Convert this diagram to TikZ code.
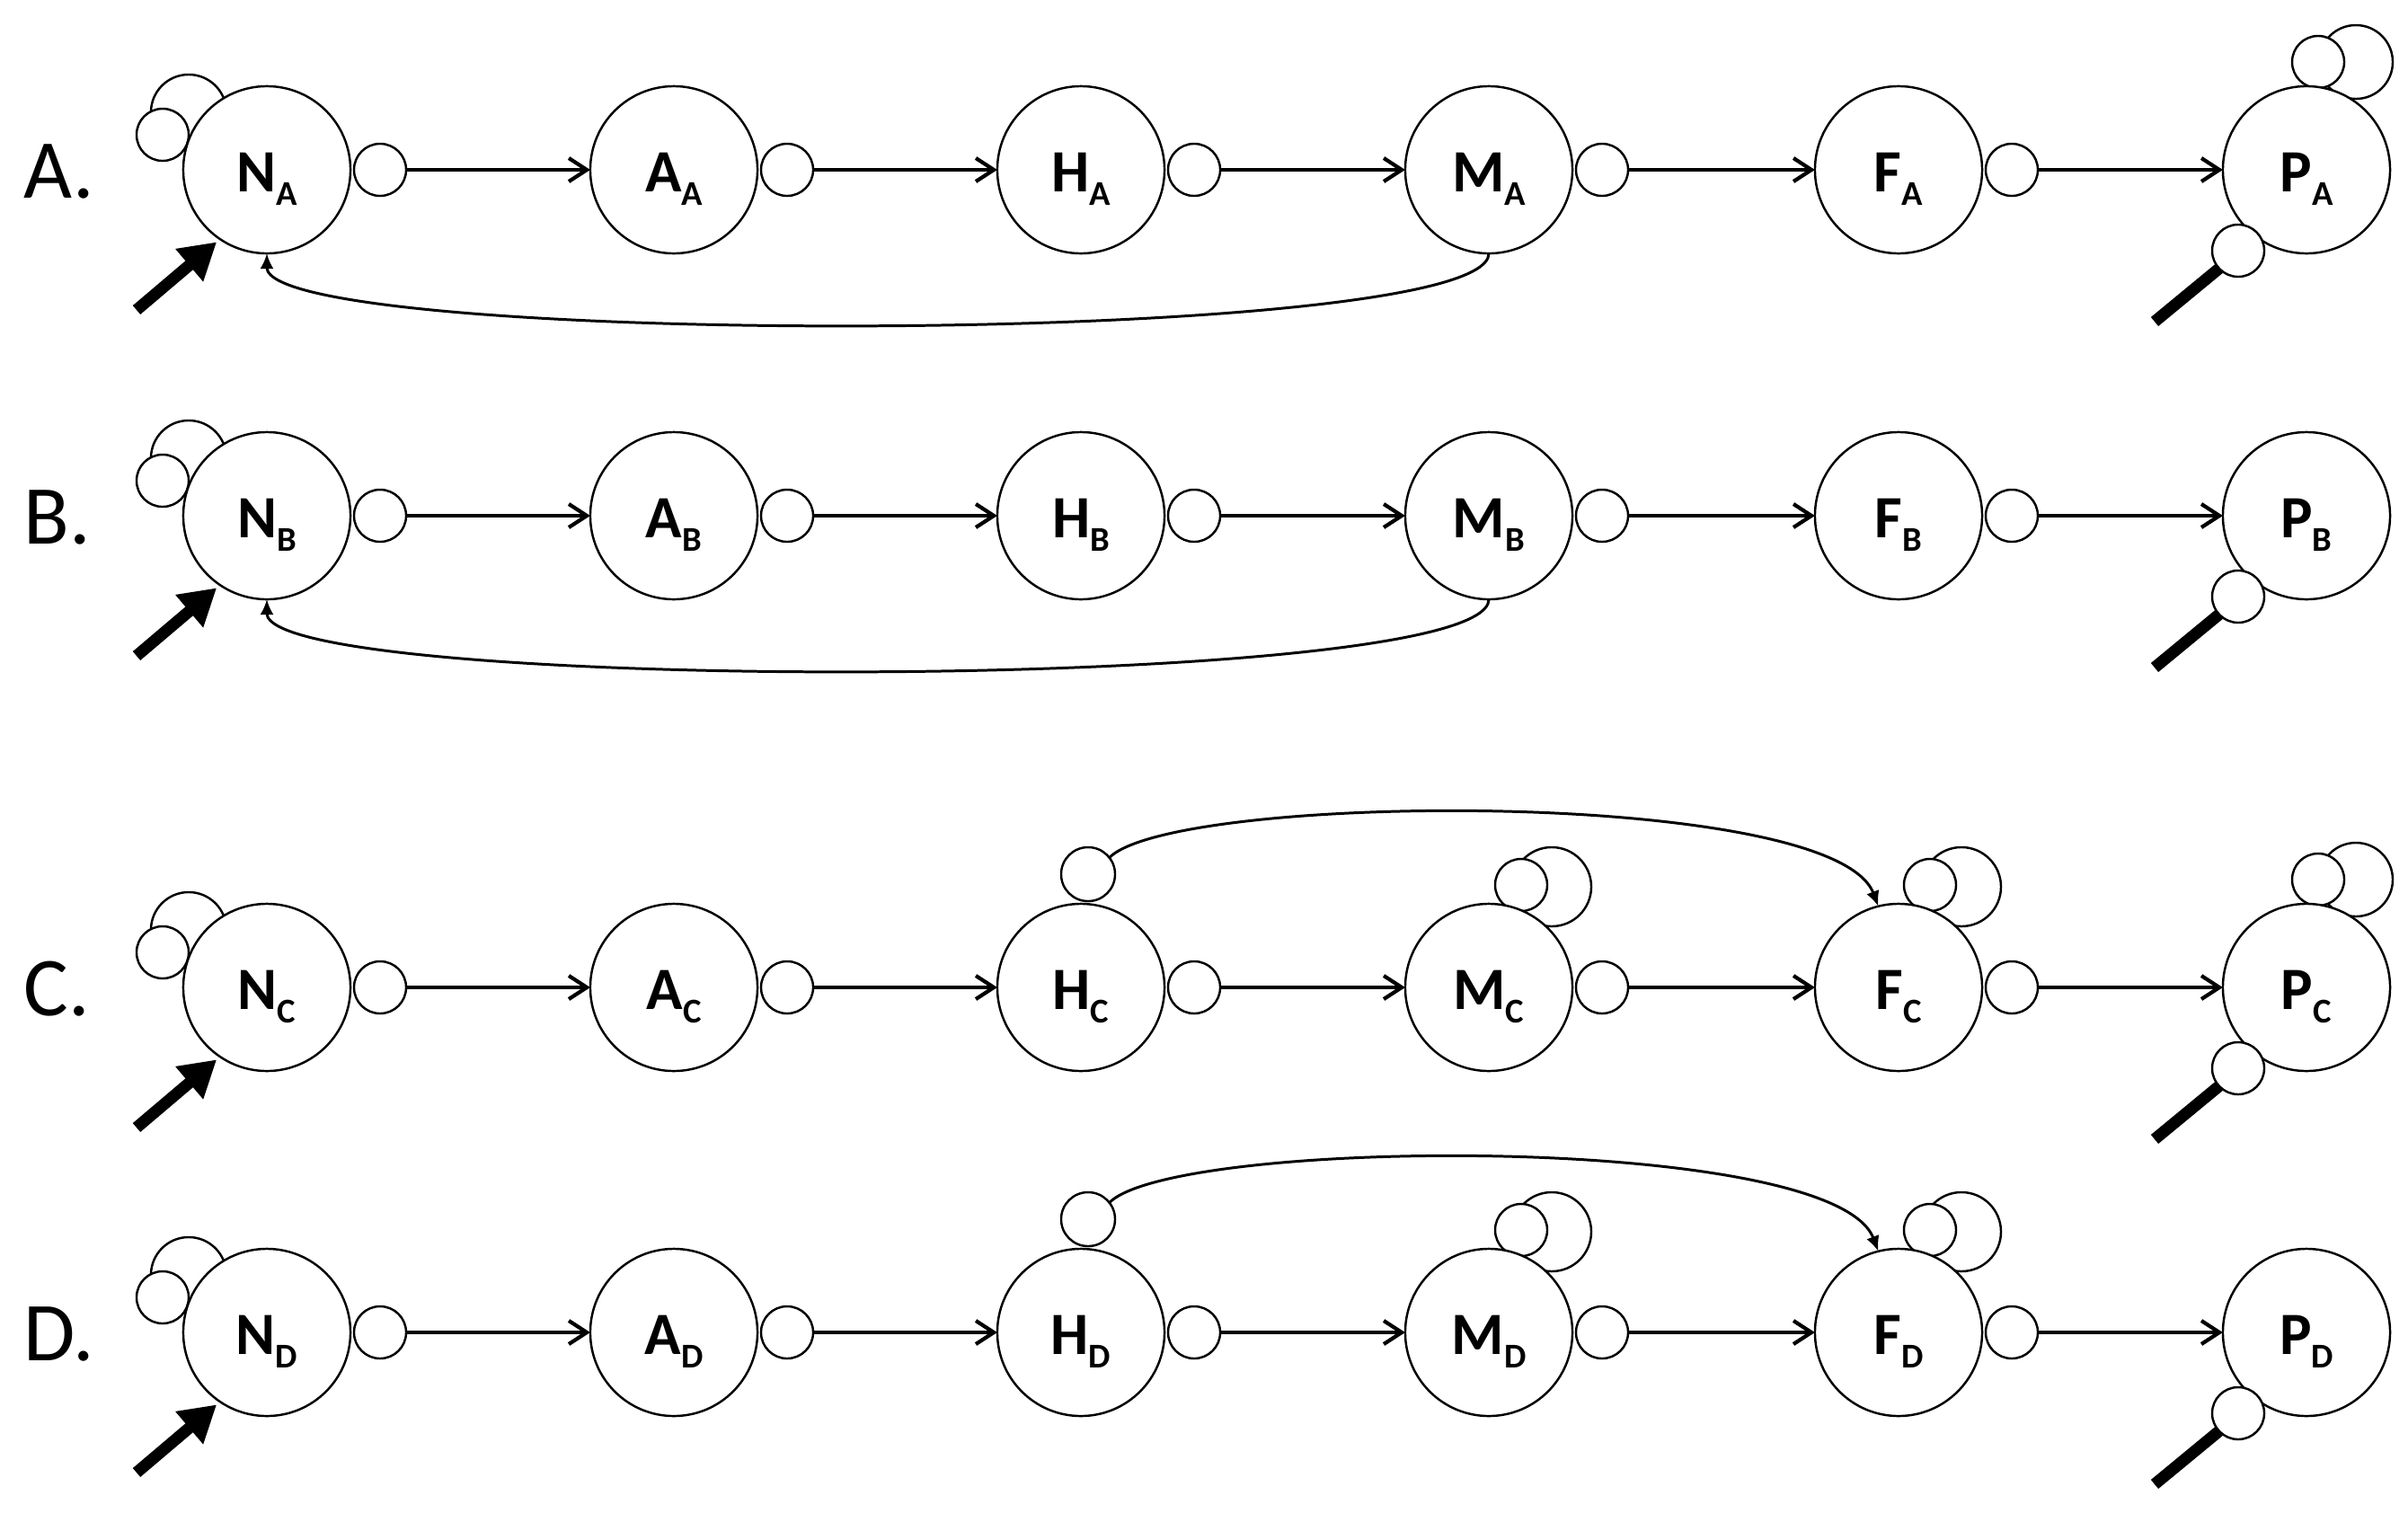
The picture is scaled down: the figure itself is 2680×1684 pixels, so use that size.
\documentclass[tikz,border=0pt]{standalone}
\usepackage{fontspec}
\setmainfont{Carlito}
\usetikzlibrary{arrows.meta}
\newcommand{\nodesub}[1]{\raisebox{-0.15cm}{\fontsize{11}{11}\selectfont #1}}
\tikzset{
  ring/.style={circle, draw=black, line width=0.7pt, fill=white, inner sep=0pt, outer sep=0pt},
  big/.style={ring, minimum size=1.86cm, text height=0.48cm, text depth=0cm, font=\fontsize{19}{19}\selectfont\bfseries},
  small/.style={ring, minimum size=0.58cm},
  hub/.style={ring, minimum size=0.6cm},
  loopN/.style={ring, minimum size=0.84cm},
  loopM/.style={ring, minimum size=0.88cm},
  loopP/.style={ring, minimum size=0.82cm},
  rowlabel/.style={anchor=base west, inner sep=0pt, font=\fontsize{26.5}{26.5}\selectfont},
  flow/.style={line width=1.2pt, -{Straight Barb[length=0.2cm,width=0.26cm]}},
  inarrow/.style={line width=0.13cm, -{Triangle[length=0.4cm,width=0.45cm]}, shorten >=0.05cm},
  stick/.style={line width=0.13cm},
  fback/.style={line width=0.85pt, -{Latex[length=0.17cm,width=0.15cm]}},
}
\begin{document}
\begin{tikzpicture}[x=0.01cm, y=-0.01cm]
\useasboundingbox (0,0) rectangle (2680,1684);
% loops behind N
\foreach \r/\y in {A/189,B/574,C/1099,D/1483}{
  \node[loopN] (nb\r) at (210,{\y-64}) {};
  \node[small] (nf\r) at (181,{\y-39}) {};
}
% loops behind M and F, small circle on top of H
\foreach \r/\y in {C/1099,D/1483}{
  \node[loopM] (mb\r) at (1727,{\y-112}) {};
  \node[small] (mf\r) at (1693,{\y-114}) {};
  \node[loopM] (fb\r) at (2183,{\y-112}) {};
  \node[small] (ff\r) at (2148,{\y-114}) {};
  \node[hub] (h\r) at (1211,{\y-126}) {};
}
% loops behind P
\foreach \r/\y in {A/189,C/1099}{
  \node[loopP] (pb\r) at (2622,{\y-120}) {};
  \node[small] (pf\r) at (2580,{\y-120}) {};
}
% rows
\foreach \r/\y in {A/189,B/574,C/1099,D/1483}{
  \node[rowlabel] (lab\r) at (26,{\y+31}) {\r.};
  \foreach \c/\x in {N/297,A/750,H/1203,M/1657,F/2113,P/2567}
    \node[big] (\c\r) at (\x,\y) {\c\nodesub{\r}};
  \foreach \c/\n/\x in {N/A/297,A/H/750,H/M/1203,M/F/1657,F/P/2113}{
    \node[small] (s\c\r) at ({\x+126},\y) {};
    \draw[flow] (s\c\r.east) -- (\n\r.west);
  }
  \node[small] (q\r) at (2491,{\y+90}) {};
  \coordinate (qe\r) at (2398,{\y+169});
  \draw[stick] (q\r.223) -- (qe\r);
  \coordinate (in\r) at (152,{\y+156});
  \draw[inarrow] (in\r) -- (N\r.236);
}
% feedback M -> N
\foreach \r in {A,B}
  \draw[fback] (M\r.south) .. controls +(0,105) and +(0,105) .. (N\r.south);
% H -> F
\foreach \r in {C,D}
  \draw[fback] (h\r.38) .. controls +(73,-73) and +(-50,-132) .. (F\r.104);
\end{tikzpicture}
\end{document}
